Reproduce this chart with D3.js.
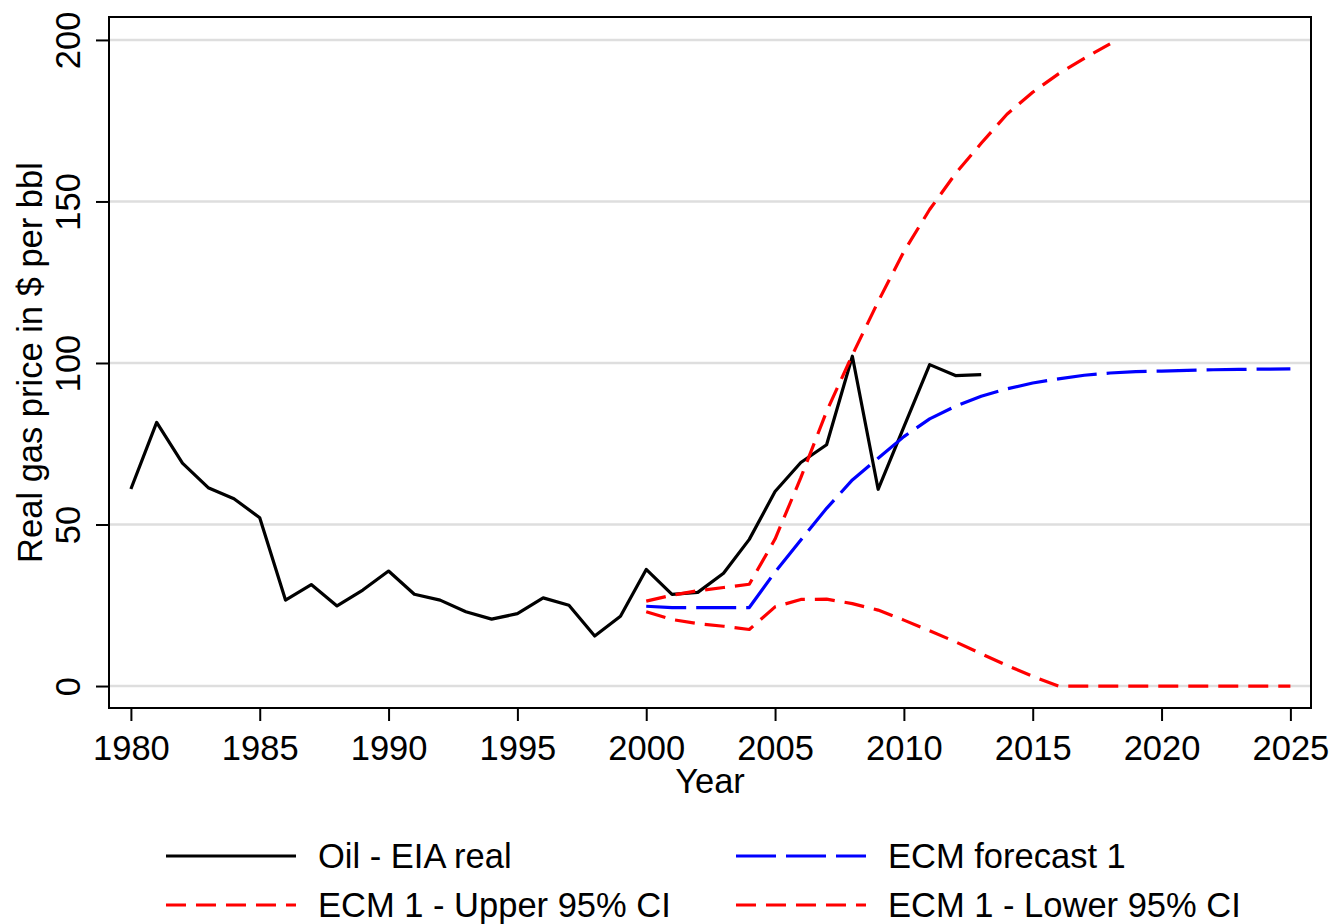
<!DOCTYPE html>
<html>
<head>
<meta charset="utf-8">
<script src="https://cdn.jsdelivr.net/npm/d3@7"></script>
<style>
  body { margin: 0; background: #fff; }
  svg { font-family: "Liberation Sans", Arial, sans-serif; }
</style>
</head>
<body>
<svg id="chart" width="1334" height="924"></svg>
<script>
// Data
const oilYears = d3.range(1980, 2014);
const oilReal = [61.0, 81.6, 69.0, 61.4, 58.0, 52.1, 26.6, 31.4, 24.8, 29.7,
  35.6, 28.4, 26.6, 23.0, 20.7, 22.4, 27.3, 25.0, 15.5, 21.6,
  36.1, 28.4, 29.0, 34.9, 45.4, 60.2, 69.2, 74.7, 102.1, 60.9,
  80.2, 99.5, 96.1, 96.4];

const fcYears = d3.range(2000, 2026);
const ecmForecast = [24.7, 24.3, 24.3, 24.3, 24.3, 35.3, 45.2, 55.0, 63.8, 70.5,
  77.2, 82.7, 86.6, 89.7, 92.0, 93.8, 95.1, 96.2, 96.9, 97.3,
  97.5, 97.7, 97.9, 98.0, 98.1, 98.2];
const ecmLower = [23.0, 20.6, 19.3, 18.5, 17.5, 24.5, 26.8, 26.9, 25.5, 23.5,
  20.4, 17.1, 13.7, 10.0, 6.4, 3.0, 0, 0, 0, 0,
  0, 0, 0, 0, 0, 0];

const upYears = d3.range(2000, 2019);
const ecmUpper = [26.3, 28.1, 29.5, 30.5, 31.5, 45.5, 64.5, 85.0, 102.5, 119.0,
  134.5, 147.5, 158.6, 168.0, 177.0, 183.8, 189.5, 194.3, 198.8];

const xTicks = d3.range(1980, 2026, 5);
const yTicks = [0, 50, 100, 150, 200];

const series = [
  { name: 'Oil - EIA real', years: oilYears, values: oilReal, color: '#000', dash: null },
  { name: 'ECM forecast 1', years: fcYears, values: ecmForecast, color: '#0000ff', dash: '40,10' },
  { name: 'ECM 1 - Upper 95% CI', years: upYears, values: ecmUpper, color: '#ff0000', dash: '20,10' },
  { name: 'ECM 1 - Lower 95% CI', years: fcYears, values: ecmLower, color: '#ff0000', dash: '20,10' },
];

const plot = { left: 109, right: 1311, top: 17, bottom: 708 };
const fontSize = 34.5;

const svg = d3.select('#chart');

const x = d3.scaleLinear()
  .domain([1979.15, 2025.8])
  .range([plot.left, plot.right]);

const y = d3.scaleLinear()
  .domain([-6.8, 207.1])
  .range([plot.bottom, plot.top]);

// gridlines
svg.append('g')
  .selectAll('line')
  .data(yTicks)
  .enter()
  .append('line')
  .attr('x1', plot.left)
  .attr('x2', plot.right)
  .attr('y1', d => y(d))
  .attr('y2', d => y(d))
  .attr('stroke', '#dedede')
  .attr('stroke-width', 2.6);

// lines
const line = d3.line()
  .x(d => x(d[0]))
  .y(d => y(d[1]));

series.forEach((s) => {
  svg.append('path')
    .datum(s.years.map((yr, i) => [yr, s.values[i]]))
    .attr('d', line)
    .attr('fill', 'none')
    .attr('stroke', s.color)
    .attr('stroke-width', 3.2)
    .attr('stroke-linejoin', 'round')
    .attr('stroke-dasharray', s.dash);
});

// frame
svg.append('rect')
  .attr('x', plot.left)
  .attr('y', plot.top)
  .attr('width', plot.right - plot.left)
  .attr('height', plot.bottom - plot.top)
  .attr('fill', 'none')
  .attr('stroke', '#000')
  .attr('stroke-width', 2);

// x axis
const xAxis = svg.append('g')
  .attr('transform', `translate(0,${plot.bottom})`)
  .call(d3.axisBottom(x).tickValues(xTicks).tickSize(13).tickPadding(15).tickFormat(d3.format('d')));
xAxis.select('.domain').remove();
xAxis.selectAll('.tick line').attr('stroke', '#000').attr('stroke-width', 2);
xAxis.selectAll('.tick text')
  .attr('fill', '#000')
  .style('font-size', `${fontSize}px`)
  .style('font-family', '"Liberation Sans", Arial, sans-serif');

// y axis
const yAxis = svg.append('g')
  .attr('transform', `translate(${plot.left},0)`)
  .call(d3.axisLeft(y).tickValues(yTicks).tickSize(13).tickFormat(d3.format('d')));
yAxis.select('.domain').remove();
yAxis.selectAll('.tick line').attr('stroke', '#000').attr('stroke-width', 2);
yAxis.selectAll('.tick text')
  .attr('x', null)
  .attr('dy', null)
  .attr('fill', '#000')
  .attr('text-anchor', 'middle')
  .attr('transform', 'translate(-29,0) rotate(-90)')
  .style('font-size', `${fontSize}px`)
  .style('font-family', '"Liberation Sans", Arial, sans-serif');

// axis titles
svg.append('text')
  .attr('x', (plot.left + plot.right) / 2)
  .attr('y', 793)
  .attr('text-anchor', 'middle')
  .style('font-size', `${fontSize}px`)
  .text('Year');

svg.append('text')
  .attr('transform', `translate(42,${(plot.top + plot.bottom) / 2}) rotate(-90)`)
  .attr('text-anchor', 'middle')
  .style('font-size', `${fontSize}px`)
  .text('Real gas price in $ per bbl');

// legend
const legendPos = [
  { lx: 166, ly: 856 },
  { lx: 736, ly: 856 },
  { lx: 166, ly: 905 },
  { lx: 736, ly: 905 },
];

const legend = svg.append('g')
  .selectAll('g')
  .data(series)
  .enter()
  .append('g')
  .attr('transform', (d, i) => `translate(${legendPos[i].lx},${legendPos[i].ly})`);

legend.append('line')
  .attr('x1', 0)
  .attr('x2', 130)
  .attr('stroke', d => d.color)
  .attr('stroke-width', 3)
  .attr('stroke-dasharray', d => d.dash);

legend.append('text')
  .attr('x', 152)
  .attr('y', 12)
  .style('font-size', `${fontSize}px`)
  .text(d => d.name);
</script>
</body>
</html>
